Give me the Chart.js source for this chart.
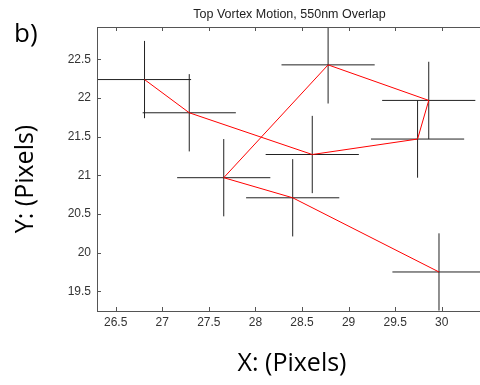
<!DOCTYPE html>
<html>
<head>
<meta charset="utf-8">
<script src="https://cdn.jsdelivr.net/npm/chart.js@4"></script>
<style>
  html, body { margin: 0; padding: 0; background: #fff; }
  #wrap { position: relative; width: 480px; height: 385px; }
</style>
</head>
<body>
<div id="wrap"><canvas id="vortexChart"></canvas></div>
<script>
// vertex positions of the vortex track, in the order the red line visits them
const xPos = [26.81, 27.29, 28.61, 29.74, 29.86, 28.78, 27.66, 28.40, 29.97];
const yPos = [22.24, 21.81, 21.27, 21.47, 21.97, 22.43, 20.97, 20.71, 19.75];
// +/- uncertainty of each vertex (cross half-length)
const xErr = [0.5, 0.5, 0.5, 0.5, 0.5, 0.5, 0.5, 0.5, 0.5];
const yErr = [0.5, 0.5, 0.5, 0.5, 0.5, 0.5, 0.5, 0.5, 0.5];

const titleText = 'Top Vortex Motion, 550nm Overlap';
const xLabel = 'X: (Pixels)';
const yLabel = 'Y: (Pixels)';
const panelTag = 'b)';

const tickFont = { family: "'Liberation Sans', Arial, sans-serif", size: 12 };
const bigFont = "25px 'Open Sans', sans-serif";
// 22 instead of 22.0, like matlab does
const tickFmt = (v) => String(+v.toFixed(2));

// error crosses, drawn under the red track
const crossPlugin = {
    id: 'crosses',
    beforeDatasetsDraw(chart) {
        const { ctx, chartArea: a, scales: { x, y } } = chart;
        ctx.save();
        ctx.beginPath();
        ctx.rect(a.left, a.top, a.right - a.left, a.bottom - a.top);
        ctx.clip();
        ctx.strokeStyle = '#222';
        ctx.lineWidth = 1;
        xPos.forEach((xv, i) => {
            const px = x.getPixelForValue(xv), py = y.getPixelForValue(yPos[i]);
            ctx.beginPath();
            ctx.moveTo(x.getPixelForValue(xv - xErr[i]), py);
            ctx.lineTo(x.getPixelForValue(xv + xErr[i]), py);
            ctx.moveTo(px, y.getPixelForValue(yPos[i] - yErr[i]));
            ctx.lineTo(px, y.getPixelForValue(yPos[i] + yErr[i]));
            ctx.stroke();
        });
        ctx.restore();
    }
};

// top frame line + inward tick marks (matlab style), title over the plot box
const framePlugin = {
    id: 'frame',
    afterDraw(chart) {
        const { ctx, chartArea: a, scales: { x, y } } = chart;
        ctx.save();
        ctx.strokeStyle = '#555';
        ctx.lineWidth = 1;
        ctx.beginPath();
        ctx.moveTo(a.left, a.top + 0.5);
        ctx.lineTo(a.right, a.top + 0.5);
        x.ticks.forEach(t => {
            const px = Math.round(x.getPixelForValue(t.value)) + 0.5;
            ctx.moveTo(px, a.bottom); ctx.lineTo(px, a.bottom - 4);
            ctx.moveTo(px, a.top); ctx.lineTo(px, a.top + 4);
        });
        y.ticks.forEach(t => {
            const py = Math.round(y.getPixelForValue(t.value)) + 0.5;
            ctx.moveTo(a.left, py); ctx.lineTo(a.left + 4, py);
        });
        ctx.stroke();

        ctx.fillStyle = '#222';
        ctx.font = "12.5px 'Liberation Sans', Arial, sans-serif";
        ctx.textAlign = 'center';
        ctx.textBaseline = 'middle';
        ctx.fillText(titleText, (a.left + a.right) / 2 + 1, 15);

        // big axis captions and panel tag
        ctx.fillStyle = '#000';
        ctx.font = bigFont;
        ctx.fillText(xLabel, 292, 364);
        ctx.translate(26, 179);
        ctx.rotate(-Math.PI / 2);
        ctx.fillText(yLabel, 0, 0);
        ctx.setTransform(1, 0, 0, 1, 0, 0);
        ctx.font = "26px 'Open Sans', sans-serif";
        ctx.textAlign = 'left';
        ctx.textBaseline = 'alphabetic';
        ctx.fillText(panelTag, 14, 42);
        ctx.restore();
    }
};

new Chart(document.getElementById('vortexChart').getContext('2d'), {
    type: 'scatter',
    data: {
        datasets: [{
            data: xPos.map((xv, i) => ({ x: xv, y: yPos[i] })),
            showLine: true,
            borderColor: '#ff0000',
            borderWidth: 1,
            pointRadius: 0,
            tension: 0
        }]
    },
    options: {
        responsive: true,
        maintainAspectRatio: false,
        animation: false,
        layout: { padding: { top: 27 } },
        plugins: {
            legend: { display: false },
            tooltip: { enabled: false },
            title: { display: false }
        },
        scales: {
            x: {
                type: 'linear', min: 26.3, max: 30.41,
                grid: { display: false, drawTicks: false },
                border: { display: true, color: '#555', width: 1 },
                ticks: { stepSize: 0.5, includeBounds: false, color: '#333', font: tickFont, padding: 4, callback: tickFmt },
                afterFit: (s) => { s.height = 74; }
            },
            y: {
                type: 'linear', min: 19.245, max: 22.92,
                grid: { display: false, drawTicks: false },
                border: { display: true, color: '#555', width: 1 },
                ticks: { stepSize: 0.5, includeBounds: false, color: '#333', font: tickFont, padding: 6, callback: tickFmt },
                afterFit: (s) => { s.width = 97; }
            }
        }
    },
    plugins: [crossPlugin, framePlugin]
});
</script>
</body>
</html>
